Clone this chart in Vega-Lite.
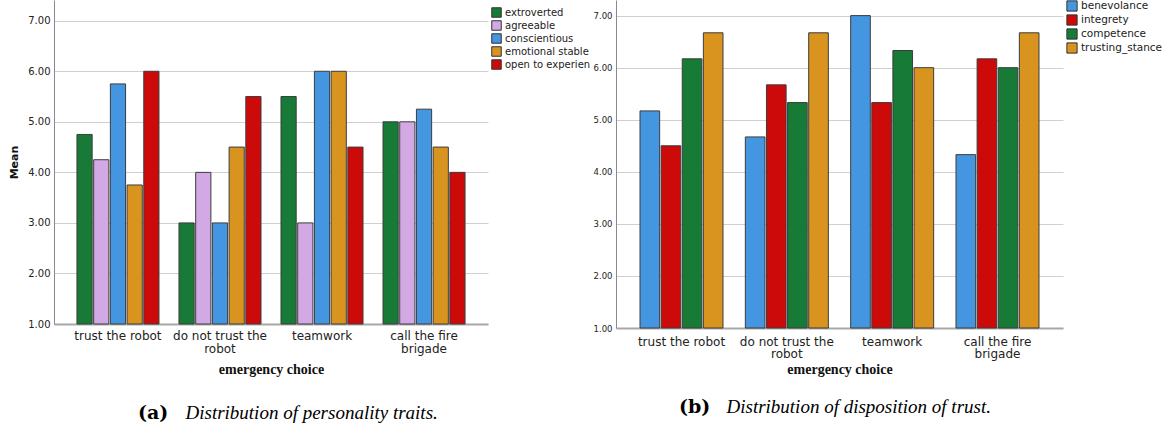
{
  "$schema": "https://vega.github.io/schema/vega-lite/v6.json",
  "background": "white",
  "padding": {"left": 8, "top": 0, "right": 0, "bottom": 0},
  "bounds": "flush",
  "spacing": 128,
  "config": {
    "view": {"stroke": null},
    "axis": {"ticks": false, "labelColor": "#222222", "titleColor": "#111111"},
    "axisY": {"grid": true, "gridColor": "#d0d0d0", "gridWidth": 1, "domainColor": "#8a8a8a", "domainWidth": 1, "labelFont": "DejaVu Sans", "labelPadding": 4},
    "axisX": {"grid": false, "domainColor": "#a8a8a8", "domainWidth": 2, "labelFont": "DejaVu Sans", "labelFontSize": 12, "labelAngle": 0, "labelLineHeight": 12.6, "titleFont": "Liberation Serif", "titleFontSize": 14, "titleFontWeight": "bold"},
    "legend": {"symbolType": "square", "symbolStrokeColor": "#333333", "symbolStrokeWidth": 1, "labelFont": "DejaVu Sans", "labelFontSize": 10, "labelColor": "#222222", "padding": 0, "labelLimit": 200, "labelOffset": 3},
    "title": {"color": "#000000", "subtitleColor": "#000000"}
  },
  "resolve": {"scale": {"color": "independent", "x": "independent", "y": "independent", "xOffset": "independent"}},
  "datasets": {
    "traits": [
      {"choice": "trust the robot", "trait": "extroverted", "mean": 4.75},
      {"choice": "trust the robot", "trait": "agreeable", "mean": 4.25},
      {"choice": "trust the robot", "trait": "conscientious", "mean": 5.75},
      {"choice": "trust the robot", "trait": "emotional stable", "mean": 3.75},
      {"choice": "trust the robot", "trait": "open to experien", "mean": 6.0},
      {"choice": "do not trust the robot", "trait": "extroverted", "mean": 3.0},
      {"choice": "do not trust the robot", "trait": "agreeable", "mean": 4.0},
      {"choice": "do not trust the robot", "trait": "conscientious", "mean": 3.0},
      {"choice": "do not trust the robot", "trait": "emotional stable", "mean": 4.5},
      {"choice": "do not trust the robot", "trait": "open to experien", "mean": 5.5},
      {"choice": "teamwork", "trait": "extroverted", "mean": 5.5},
      {"choice": "teamwork", "trait": "agreeable", "mean": 3.0},
      {"choice": "teamwork", "trait": "conscientious", "mean": 6.0},
      {"choice": "teamwork", "trait": "emotional stable", "mean": 6.0},
      {"choice": "teamwork", "trait": "open to experien", "mean": 4.5},
      {"choice": "call the fire brigade", "trait": "extroverted", "mean": 5.0},
      {"choice": "call the fire brigade", "trait": "agreeable", "mean": 5.0},
      {"choice": "call the fire brigade", "trait": "conscientious", "mean": 5.25},
      {"choice": "call the fire brigade", "trait": "emotional stable", "mean": 4.5},
      {"choice": "call the fire brigade", "trait": "open to experien", "mean": 4.0}
    ],
    "trust": [
      {"choice": "trust the robot", "disposition": "benevolance", "mean": 5.17},
      {"choice": "trust the robot", "disposition": "integrety", "mean": 4.5},
      {"choice": "trust the robot", "disposition": "competence", "mean": 6.17},
      {"choice": "trust the robot", "disposition": "trusting_stance", "mean": 6.67},
      {"choice": "do not trust the robot", "disposition": "benevolance", "mean": 4.67},
      {"choice": "do not trust the robot", "disposition": "integrety", "mean": 5.67},
      {"choice": "do not trust the robot", "disposition": "competence", "mean": 5.33},
      {"choice": "do not trust the robot", "disposition": "trusting_stance", "mean": 6.67},
      {"choice": "teamwork", "disposition": "benevolance", "mean": 7.0},
      {"choice": "teamwork", "disposition": "integrety", "mean": 5.33},
      {"choice": "teamwork", "disposition": "competence", "mean": 6.33},
      {"choice": "teamwork", "disposition": "trusting_stance", "mean": 6.0},
      {"choice": "call the fire brigade", "disposition": "benevolance", "mean": 4.33},
      {"choice": "call the fire brigade", "disposition": "integrety", "mean": 6.17},
      {"choice": "call the fire brigade", "disposition": "competence", "mean": 6.0},
      {"choice": "call the fire brigade", "disposition": "trusting_stance", "mean": 6.67}
    ]
  },
  "hconcat": [
    {
      "width": 434,
      "height": 324,
      "data": {"name": "traits"},
      "title": {
        "text": "(a)",
        "subtitle": "\u200b\u00a0\u00a0\u00a0\u00a0\u00a0\u00a0\u00a0\u00a0\u00a0\u00a0Distribution of personality traits.",
        "orient": "bottom", "anchor": "start", "frame": "group", "dx": 84, "offset": 27.5,
        "font": "DejaVu Serif", "fontSize": 19, "fontWeight": "bold",
        "subtitleFont": "Liberation Serif", "subtitleFontSize": 19, "subtitleFontStyle": "italic", "subtitlePadding": -19
      },
      "mark": {"type": "bar", "stroke": "#3c3c3c", "strokeWidth": 1},
      "encoding": {
        "x": {
          "field": "choice", "type": "nominal",
          "scale": {"domain": ["trust the robot", "do not trust the robot", "teamwork", "call the fire brigade"], "paddingInner": 0.196, "paddingOuter": 0.225},
          "axis": {"title": "emergency choice", "labelPadding": 6.5, "titlePadding": 8,
            "labelExpr": "datum.label == 'do not trust the robot' ? ['do not trust the', 'robot'] : datum.label == 'call the fire brigade' ? ['call the fire', 'brigade'] : datum.label"}
        },
        "xOffset": {"field": "trait", "type": "nominal", "scale": {"domain": ["extroverted", "agreeable", "conscientious", "emotional stable", "open to experien"], "paddingInner": 0.09, "paddingOuter": 0}},
        "y": {
          "field": "mean", "type": "quantitative",
          "scale": {"domain": [1, 7.41], "nice": false, "zero": false},
          "axis": {"title": "Mean", "values": [1, 2, 3, 4, 5, 6, 7], "format": ".2f", "labelFontSize": 10, "titleFont": "DejaVu Sans", "titleFontSize": 11, "titleFontWeight": "bold", "titlePadding": 8}
        },
        "y2": {"datum": 1},
        "color": {
          "field": "trait", "type": "nominal",
          "scale": {"domain": ["extroverted", "agreeable", "conscientious", "emotional stable", "open to experien"], "range": ["#177a37", "#d2a9e4", "#4596e0", "#d8941f", "#cc0a0a"]},
          "legend": {"title": null, "orient": "right", "offset": -4, "padding": 7, "symbolSize": 90, "rowPadding": -5.4, "labelFontSize": 10}
        }
      }
    },
    {
      "width": 447,
      "height": 328,
      "data": {"name": "trust"},
      "title": {
        "text": "(b)",
        "subtitle": "\u200b\u00a0\u00a0\u00a0\u00a0\u00a0\u00a0\u00a0\u00a0\u00a0\u00a0Distribution of disposition of trust.",
        "orient": "bottom", "anchor": "start", "frame": "group", "dx": 63, "offset": 21,
        "font": "DejaVu Serif", "fontSize": 19, "fontWeight": "bold",
        "subtitleFont": "Liberation Serif", "subtitleFontSize": 19, "subtitleFontStyle": "italic", "subtitlePadding": -19
      },
      "mark": {"type": "bar", "stroke": "#3c3c3c", "strokeWidth": 1},
      "encoding": {
        "x": {
          "field": "choice", "type": "nominal",
          "scale": {"domain": ["trust the robot", "do not trust the robot", "teamwork", "call the fire brigade"], "paddingInner": 0.212, "paddingOuter": 0.228},
          "axis": {"title": "emergency choice", "labelPadding": 8, "titlePadding": 3,
            "labelExpr": "datum.label == 'do not trust the robot' ? ['do not trust the', 'robot'] : datum.label == 'call the fire brigade' ? ['call the fire', 'brigade'] : datum.label"}
        },
        "xOffset": {"field": "disposition", "type": "nominal", "scale": {"domain": ["benevolance", "integrety", "competence", "trusting_stance"], "paddingInner": 0.07, "paddingOuter": 0}},
        "y": {
          "field": "mean", "type": "quantitative",
          "scale": {"domain": [1, 7.3], "nice": false, "zero": false},
          "axis": {"title": null, "values": [1, 2, 3, 4, 5, 6, 7], "format": ".2f", "labelFontSize": 8.5}
        },
        "y2": {"datum": 1},
        "color": {
          "field": "disposition", "type": "nominal",
          "scale": {"domain": ["benevolance", "integrety", "competence", "trusting_stance"], "range": ["#4596e0", "#cc0a0a", "#177a37", "#d8941f"]},
          "legend": {"title": null, "orient": "right", "offset": 3, "symbolSize": 105, "rowPadding": -6, "labelFontSize": 10.5}
        }
      }
    }
  ]
}
